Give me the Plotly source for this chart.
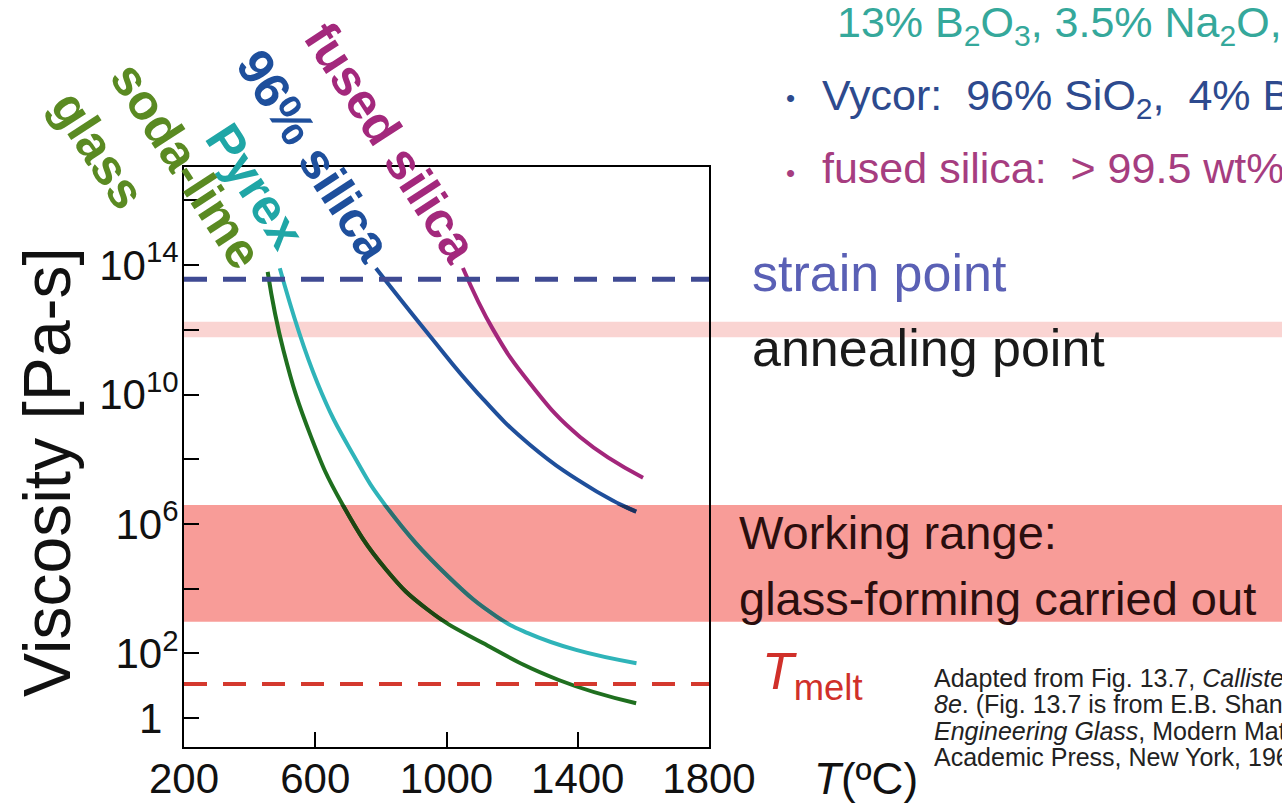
import plotly.graph_objects as go

# ---- data: temperature (deg C) vs log10 viscosity (Pa-s) for each glass ----
soda_lime_T = [455, 503, 587, 681, 817, 943, 1111, 1342, 1578]
soda_lime_log_eta = [13.79, 11.37, 8.70, 6.64, 4.58, 3.35, 2.32, 1.18, 0.46]

pyrex_T = [492, 607, 718, 817, 1006, 1153, 1248, 1395, 1579]
pyrex_log_eta = [13.90, 10.35, 8.10, 6.53, 4.37, 3.14, 2.63, 2.11, 1.70]

vycor_T = [785, 950, 1090, 1254, 1458, 1578]
vycor_log_eta = [13.90, 11.80, 10.10, 8.45, 7.00, 6.38]

fused_silica_T = [1050, 1143, 1254, 1407, 1599]
fused_silica_log_eta = [13.91, 11.99, 10.35, 8.69, 7.43]

# reference viscosity levels (log10 Pa-s)
strain_point_log = 13.56
annealing_band_log = [11.77, 12.25]
working_range_log = [2.98, 6.59]
melt_log = 1.06

# axes
x_range = [200, 1800]
x_ticks = [200, 600, 1000, 1400, 1800]
y_range_log = [-0.89, 17.03]
y_tick_exp = [0, 2, 4, 6, 8, 10, 12, 14, 16]
y_tick_text = ["1<sup>\u2007</sup>", "10<sup>2</sup>", "", "10<sup>6</sup>", "",
               "10<sup>10</sup>", "", "10<sup>14</sup>", ""]

FONT = "Liberation Sans, Arial, Helvetica, sans-serif"

# figure geometry (pixels)
W, H = 1282, 806
L, R, T, B = 184, 573, 167, 59
PW, PH = W - L - R, H - T - B

BAND_RGB = (248, 156, 152)


def px(xp):
    return (xp - L) / PW


def py(yp):
    return (H - B - yp) / PH


def hex_to_rgb(h):
    h = h.lstrip("#")
    return tuple(int(h[i:i + 2], 16) for i in (0, 2, 4))


def multiply(h, rgb):
    c = hex_to_rgb(h)
    return "rgb(%d,%d,%d)" % tuple(round(a * b / 255) for a, b in zip(c, rgb))


fig = go.Figure()

series = [
    (soda_lime_T, soda_lime_log_eta, "#1f6f1f", "soda-lime glass"),
    (pyrex_T, pyrex_log_eta, "#2fb4b9", "Pyrex"),
    (vycor_T, vycor_log_eta, "#1f4f9b", "96% silica"),
    (fused_silica_T, fused_silica_log_eta, "#a3267b", "fused silica"),
]
for xs, logs, color, name in series:
    fig.add_trace(go.Scatter(
        x=xs, y=[10 ** v for v in logs], mode="lines", name=name,
        line=dict(color=color, width=4, shape="spline", smoothing=1.3),
        showlegend=False, hoverinfo="skip",
    ))

# same curves seen through the working-range band (y2 spans exactly the band)
for xs, logs, color, name in series:
    fig.add_trace(go.Scatter(
        x=xs, y=[10 ** v for v in logs], mode="lines", name=name + " (band)",
        xaxis="x", yaxis="y2",
        line=dict(color=multiply(color, BAND_RGB), width=4, shape="spline", smoothing=1.3),
        showlegend=False, hoverinfo="skip",
    ))

span = y_range_log[1] - y_range_log[0]
band_domain = [(working_range_log[0] - y_range_log[0]) / span,
               (working_range_log[1] - y_range_log[0]) / span]

band_x1 = (W - L) / PW  # bands run on to the right edge of the page
shapes = [
    # annealing point band
    dict(type="rect", xref="paper", yref="y", x0=0, x1=band_x1,
         y0=10 ** annealing_band_log[0], y1=10 ** annealing_band_log[1],
         fillcolor="rgb(250,212,210)", line=dict(width=0), layer="below"),
    # working range band
    dict(type="rect", xref="paper", yref="y", x0=0, x1=band_x1,
         y0=10 ** working_range_log[0], y1=10 ** working_range_log[1],
         fillcolor="rgb(%d,%d,%d)" % BAND_RGB, line=dict(width=0), layer="below"),
    # strain point
    dict(type="line", xref="x", yref="y", x0=x_range[0], x1=x_range[1],
         y0=10 ** strain_point_log, y1=10 ** strain_point_log,
         line=dict(color="#3f4a93", width=5, dash="23px,16px"), layer="above"),
    # melting
    dict(type="line", xref="x", yref="y", x0=x_range[0], x1=x_range[1],
         y0=10 ** melt_log, y1=10 ** melt_log,
         line=dict(color="#d4392e", width=4, dash="23px,16px"), layer="above"),
]

ann = []


def text(x, y, s, size, color, xanchor="left", yanchor="middle", angle=0, bold=False):
    ann.append(dict(
        xref="paper", yref="paper", x=px(x), y=py(y), text=s, showarrow=False,
        xanchor=xanchor, yanchor=yanchor, textangle=angle,
        font=dict(family=FONT, size=size, color=color,
                  weight="bold" if bold else "normal"),
    ))


# rotated curve labels
text(391, 143, "fused silica", 50, "#a3287c", "center", "middle", 57, bold=True)
text(314, 156, "96% silica", 50, "#1e4f9c", "center", "middle", 57, bold=True)
text(255, 186, "Pyrex", 50, "#1fa6a6", "center", "middle", 57, bold=True)
text(186, 165, "soda-lime", 50, "#5a8a22", "center", "middle", 57, bold=True)
text(98, 150, "glass", 50, "#5a8a22", "center", "middle", 57, bold=True)

# composition notes
text(835, 25, "13% B<sub>2</sub>O<sub>3</sub>, 3.5% Na<sub>2</sub>O, 2.5% Al<sub>2</sub>O<sub>3</sub>",
     43, "#35a89b")
text(790, 98, "\u2022", 26, "#2d4a8e", "center")
text(820, 98, "Vycor:\u00a0 96% SiO<sub>2</sub>,\u00a0 4% B<sub>2</sub>O<sub>3</sub>", 43, "#2d4a8e")
text(790, 173, "\u2022", 26, "#a63d80", "center")
text(820, 171, "fused silica:\u00a0 &gt; 99.5 wt% SiO<sub>2</sub>", 43, "#a63d80")

# level labels
text(750, 273, "strain point", 52, "#5a60b5")
text(750, 348, "annealing point", 52, "#1a1a1a")
text(737, 532, "Working range:", 47, "#2a0e0e")
text(737, 598, "glass-forming carried out", 47, "#2a0e0e")
text(760, 675, "<i>T</i><sub>melt</sub>", 52, "#d0302a")

# axis titles
text(47, 472, "Viscosity [Pa-s]", 66, "#111111", "center", "middle", -90)
text(812, 778, "<i>T</i>(ºC)", 44, "#111111")

# source note
notes = [
    "Adapted from Fig. 13.7, <i>Callister &amp; Rethwisch</i>",
    "<i>8e</i>. (Fig. 13.7 is from E.B. Shand, <i>Engineering Properties of</i>",
    "<i>Engineering Glass</i>, Modern Materials, Vol. 6,",
    "Academic Press, New York, 1968, p. 262.)",
]
for i, line in enumerate(notes):
    text(932, 678 + i * 26.3, line, 25, "#222222")

axis_common = dict(
    showline=True, linecolor="black", linewidth=2, mirror=True,
    ticks="inside", ticklen=15, tickwidth=2, tickcolor="black",
    showgrid=False, zeroline=False, automargin=False,
    tickfont=dict(family=FONT, size=42, color="#111111"),
)

fig.update_layout(
    width=W, height=H,
    margin=dict(l=L, r=R, t=T, b=B, pad=0, autoexpand=False),
    paper_bgcolor="white", plot_bgcolor="rgba(0,0,0,0)",
    xaxis=dict(range=x_range, tickvals=x_ticks, ticktext=[str(v) for v in x_ticks],
               ticklabelstandoff=-6, anchor="y", **axis_common),
    yaxis=dict(type="log", range=y_range_log, domain=[0, 1],
               tickvals=[10 ** e for e in y_tick_exp], ticktext=y_tick_text,
               ticklabelstandoff=-5, **axis_common),
    yaxis2=dict(type="log", range=working_range_log, domain=band_domain,
                anchor="x", visible=False, showgrid=False, zeroline=False,
                automargin=False),
    shapes=shapes,
    annotations=ann,
    showlegend=False,
)

fig.write_html("out.html", config={"displayModeBar": False})
